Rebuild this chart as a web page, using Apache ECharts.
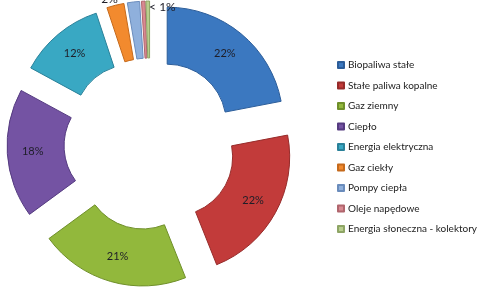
<!DOCTYPE html>
<html>
<head>
<meta charset="utf-8">
<script src="https://cdn.jsdelivr.net/npm/echarts@6/dist/echarts.min.js"></script>
<style>
html,body{margin:0;padding:0;background:#fff;}
#chart{width:480px;height:300px;}
</style>
</head>
<body>
<div id="chart"></div>
<script>
const categories = ['Biopaliwa stałe','Stałe paliwa kopalne','Gaz ziemny','Ciepło','Energia elektryczna','Gaz ciekły','Pompy ciepła','Oleje napędowe','Energia słoneczna - kolektory'];
const values = [22, 22, 21, 18, 12, 2.4, 1.7, 0.5, 0.5];
const labelTexts = ['22%','22%','21%','18%','12%','2%','','','< 1%'];
const colors = ['#3b78c0','#c23b3a','#92b83c','#7453a3','#39a8c3','#f28a2e','#8fb0dc','#d98a92','#b9cf8e'];
const borders = ['#2c5d99','#962b2a','#6f8f2a','#553b80','#2a8199','#c56a1c','#6a8cbc','#b0656d','#8ea565'];

const chart = echarts.init(document.getElementById('chart'), null, {renderer:'canvas'});
const FONT = 'Lato';
const data = categories.map((c, i) => {
  const small = i >= 5;
  return {
    name: c,
    value: values[i],
    selected: true,
    itemStyle: {color: colors[i], borderColor: borders[i], borderWidth: 1},
    label: {
      show: labelTexts[i] !== '',
      formatter: labelTexts[i],
      position: small ? 'outside' : 'inside',
      fontSize: small ? 12 : 11
    },
    labelLine: {show: false, length: 2, length2: 0}
  };
});

chart.setOption({
  animation: false,
  color: colors,
  legend: {
    orient: 'vertical',
    left: 332,
    top: 54,
    itemWidth: 6,
    itemHeight: 6,
    itemGap: 8.5,
    icon: 'rect',
    textStyle: {fontFamily: FONT, fontSize: 10, color: '#222', lineHeight: 12, padding: [0,0,0,-1], overflow: 'none'},
    data: categories
  },
  series: [{
    type: 'pie',
    center: [150, 144],
    radius: [59, 116],
    startAngle: 90,
    clockwise: true,
    selectedMode: 'multiple',
    selectedOffset: 27,
    avoidLabelOverlap: false,
    emphasis: {disabled: true},
    label: {fontFamily: FONT, color: '#1e1e28'},
    labelLayout: function (p) {
      if (p.dataIndex === 8) return {dx: 33, dy: 8};
      if (p.dataIndex === 5) return {dx: 8, dy: -4};
      return {};
    },
    data: data
  }]
});
</script>
</body>
</html>
